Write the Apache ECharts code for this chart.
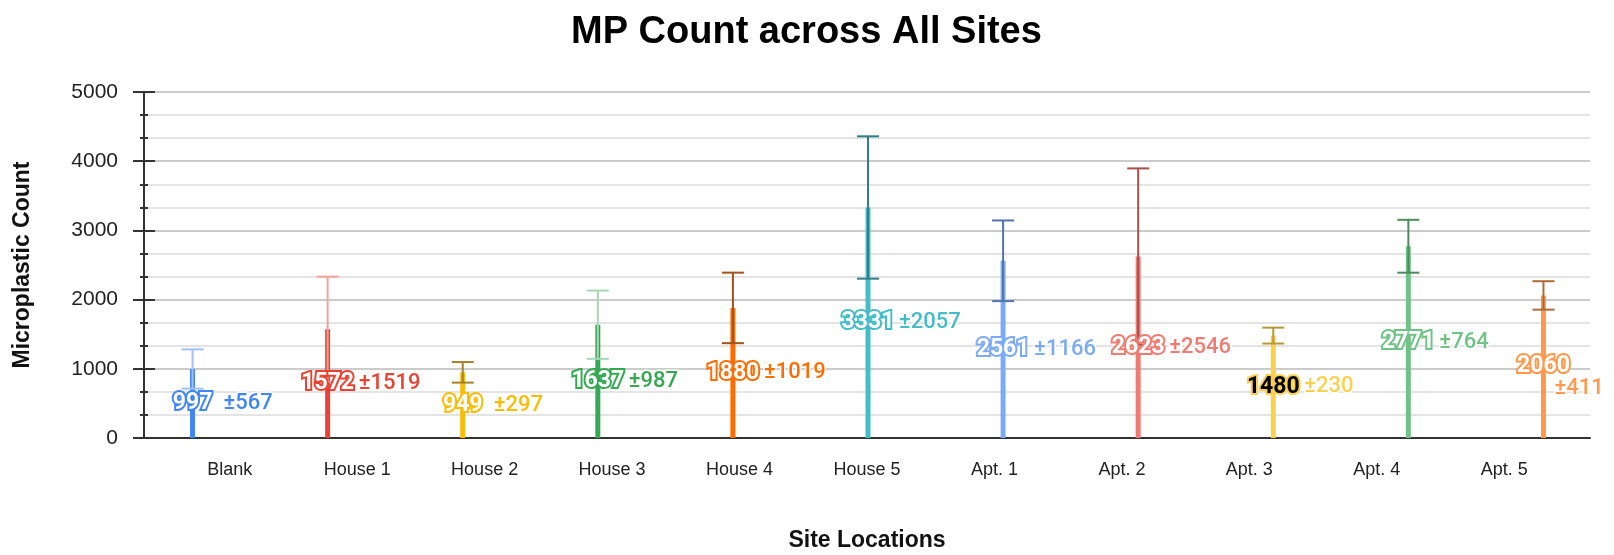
<!DOCTYPE html>
<html>
<head>
<meta charset="utf-8">
<title>MP Count across All Sites</title>
<script src="https://cdn.jsdelivr.net/npm/echarts@6/dist/echarts.min.js"></script>
<style>
  html, body { margin: 0; padding: 0; background: #fff; }
  #main { width: 1614px; height: 555px; }
</style>
</head>
<body>
<div id="main"></div>
<script>
// data
var sites = ['Blank', 'House 1', 'House 2', 'House 3', 'House 4', 'House 5',
             'Apt. 1', 'Apt. 2', 'Apt. 3', 'Apt. 4', 'Apt. 5'];
var meanCounts = [997, 1572, 949, 1637, 1880, 3331, 2561, 2623, 1480, 2771, 2060];
var stdDevs = [567, 1519, 297, 987, 1019, 2057, 1166, 2546, 230, 764, 411];
var yTicks = [0, 1000, 2000, 3000, 4000, 5000];

// styles (google sheets palette)
var barColors = ['#4285F4', '#EA4335', '#FBBC04', '#34A853', '#FF6D01', '#46BDC6',
                 '#7BAAF7', '#F07B72', '#FCD04F', '#71C287', '#FF994D'];
var errColors = ['#a3c1f7', '#f3a29b', '#a3822a', '#a5d8b2', '#a4521a', '#2f7f86',
                 '#5274ad', '#a8504a', '#b39a35', '#4d8a5e', '#b06a35'];
var valueTextColors = ['#fff', '#fff', '#fff', '#fff', '#fff', '#fff',
                       '#fff', '#fff', '#000', '#fff', '#fff'];

var chart = echarts.init(document.getElementById('main'));

var gridTop = 92, gridBottom = 117;
var yMin = yTicks[0], yMax = yTicks[yTicks.length - 1], yStep = yTicks[1] - yTicks[0];

var barData = meanCounts.map(function (v, i) {
    return { value: v, itemStyle: { color: barColors[i] } };
});
var labelData = meanCounts.map(function (v, i) {
    return {
        value: v,
        label: { color: valueTextColors[i], textBorderColor: barColors[i] }
    };
});
var errData = meanCounts.map(function (v, i) { return [i, v, stdDevs[i]]; });

function renderErr(params, api) {
    var i = api.value(0), mean = api.value(1), sd = api.value(2);
    var hi = api.coord([i, mean + sd / 2]);
    var lo = api.coord([i, mean - sd / 2]);
    var mid = api.coord([i, mean / 2]);
    var cap = 11;
    var col = errColors[i];
    var txt = '\u00b1' + sd;
    var tx = mid[0] + 31, ty = mid[1];
    var estW = txt.length * 12.5;
    if (tx + estW > chart.getWidth() - 6) {
        // no room on the right: drop below the value label
        tx = mid[0] + 11;
        ty = mid[1] + 22;
    }
    return {
        type: 'group',
        children: [
            { type: 'line', shape: { x1: hi[0], y1: hi[1], x2: lo[0], y2: lo[1] },
              style: { stroke: col, lineWidth: 2 } },
            { type: 'line', shape: { x1: hi[0] - cap, y1: hi[1], x2: hi[0] + cap, y2: hi[1] },
              style: { stroke: col, lineWidth: 2 } },
            { type: 'line', shape: { x1: lo[0] - cap, y1: lo[1], x2: lo[0] + cap, y2: lo[1] },
              style: { stroke: col, lineWidth: 2 } },
            { type: 'text', x: tx, y: ty, z2: 10,
              style: { text: txt, fill: barColors[i], stroke: '#fff', lineWidth: 3,
                       font: '500 22px Roboto', align: 'left', verticalAlign: 'middle' } }
        ]
    };
}

chart.setOption({
    animation: false,
    title: {
        text: 'MP Count across All Sites',
        left: 566,
        top: 9,
        textStyle: { fontFamily: "'Liberation Sans', Arial",
                     fontWeight: 'bold', fontSize: 38, color: '#000' }
    },
    grid: [
        // axes + gridlines
        { left: 144, right: 24, top: gridTop, bottom: gridBottom, outerBoundsMode: 'none' },
        // bars
        { left: 125, right: 3, top: gridTop, bottom: gridBottom, outerBoundsMode: 'none' },
        // category labels
        { left: 166, right: 46, top: gridTop, bottom: gridBottom, outerBoundsMode: 'none' }
    ],
    xAxis: [
        { gridIndex: 0, type: 'value', min: 0, max: 1,
          name: 'Site Locations', nameLocation: 'middle', nameGap: 91,
          nameTextStyle: { fontFamily: "'Liberation Sans', Arial", fontWeight: 'bold', fontSize: 23, color: '#111' },
          axisLine: { show: true, lineStyle: { color: '#333', width: 2 } },
          axisTick: { show: false }, axisLabel: { show: false }, splitLine: { show: false } },
        { gridIndex: 1, type: 'category', data: sites, show: false },
        { gridIndex: 2, type: 'category', data: sites,
          axisLine: { show: false }, axisTick: { show: false },
          axisLabel: { margin: 23, color: '#222', fontSize: 18,
                       fontFamily: "'Liberation Sans', Arial" } }
    ],
    yAxis: [
        { gridIndex: 0, type: 'value', min: yMin, max: yMax, interval: yStep,
          name: 'Microplastic Count', nameLocation: 'middle', nameGap: 110,
          nameTextStyle: { fontFamily: "'Liberation Sans', Arial", fontWeight: 'bold', fontSize: 23, color: '#111' },
          axisLine: { show: true, lineStyle: { color: '#333', width: 2 } },
          axisTick: { show: true, length: 11, lineStyle: { color: '#333', width: 2 } },
          minorTick: { show: true, splitNumber: 3, length: 4, lineStyle: { color: '#333', width: 2 } },
          axisLabel: { margin: 26, color: '#222', fontSize: 21, fontFamily: "'Liberation Sans', Arial",
                       formatter: function (v) { return String(v); } },
          splitLine: { show: true, lineStyle: { color: '#cbcbcb', width: 2 } },
          minorSplitLine: { show: true, lineStyle: { color: '#e4e4e4', width: 2 } } },
        // inner half of the ticks
        { gridIndex: 0, type: 'value', min: yMin, max: yMax, interval: yStep, position: 'left',
          axisLine: { show: false }, axisLabel: { show: false }, splitLine: { show: false },
          axisTick: { show: true, inside: true, length: 11, lineStyle: { color: '#333', width: 2 } },
          minorTick: { show: true, splitNumber: 3, length: 4, lineStyle: { color: '#333', width: 2 } } },
        { gridIndex: 1, type: 'value', min: yMin, max: yMax, show: false },
        { gridIndex: 2, type: 'value', min: yMin, max: yMax, show: false }
    ],
    series: [
        {
            type: 'bar', xAxisIndex: 1, yAxisIndex: 2, z: 2,
            barWidth: 5, data: barData
        },
        {
            type: 'custom', xAxisIndex: 1, yAxisIndex: 2, z: 3, clip: false,
            renderItem: renderErr, data: errData
        },
        {
            type: 'bar', xAxisIndex: 1, yAxisIndex: 2, z: 5,
            barWidth: 5, barGap: '-100%',
            itemStyle: { color: 'rgba(0,0,0,0)' },
            label: { show: true, position: 'inside', fontFamily: 'Roboto', fontWeight: 'bold',
                     fontSize: 23, textBorderWidth: 4 },
            data: labelData
        }
    ]
});
</script>
</body>
</html>
